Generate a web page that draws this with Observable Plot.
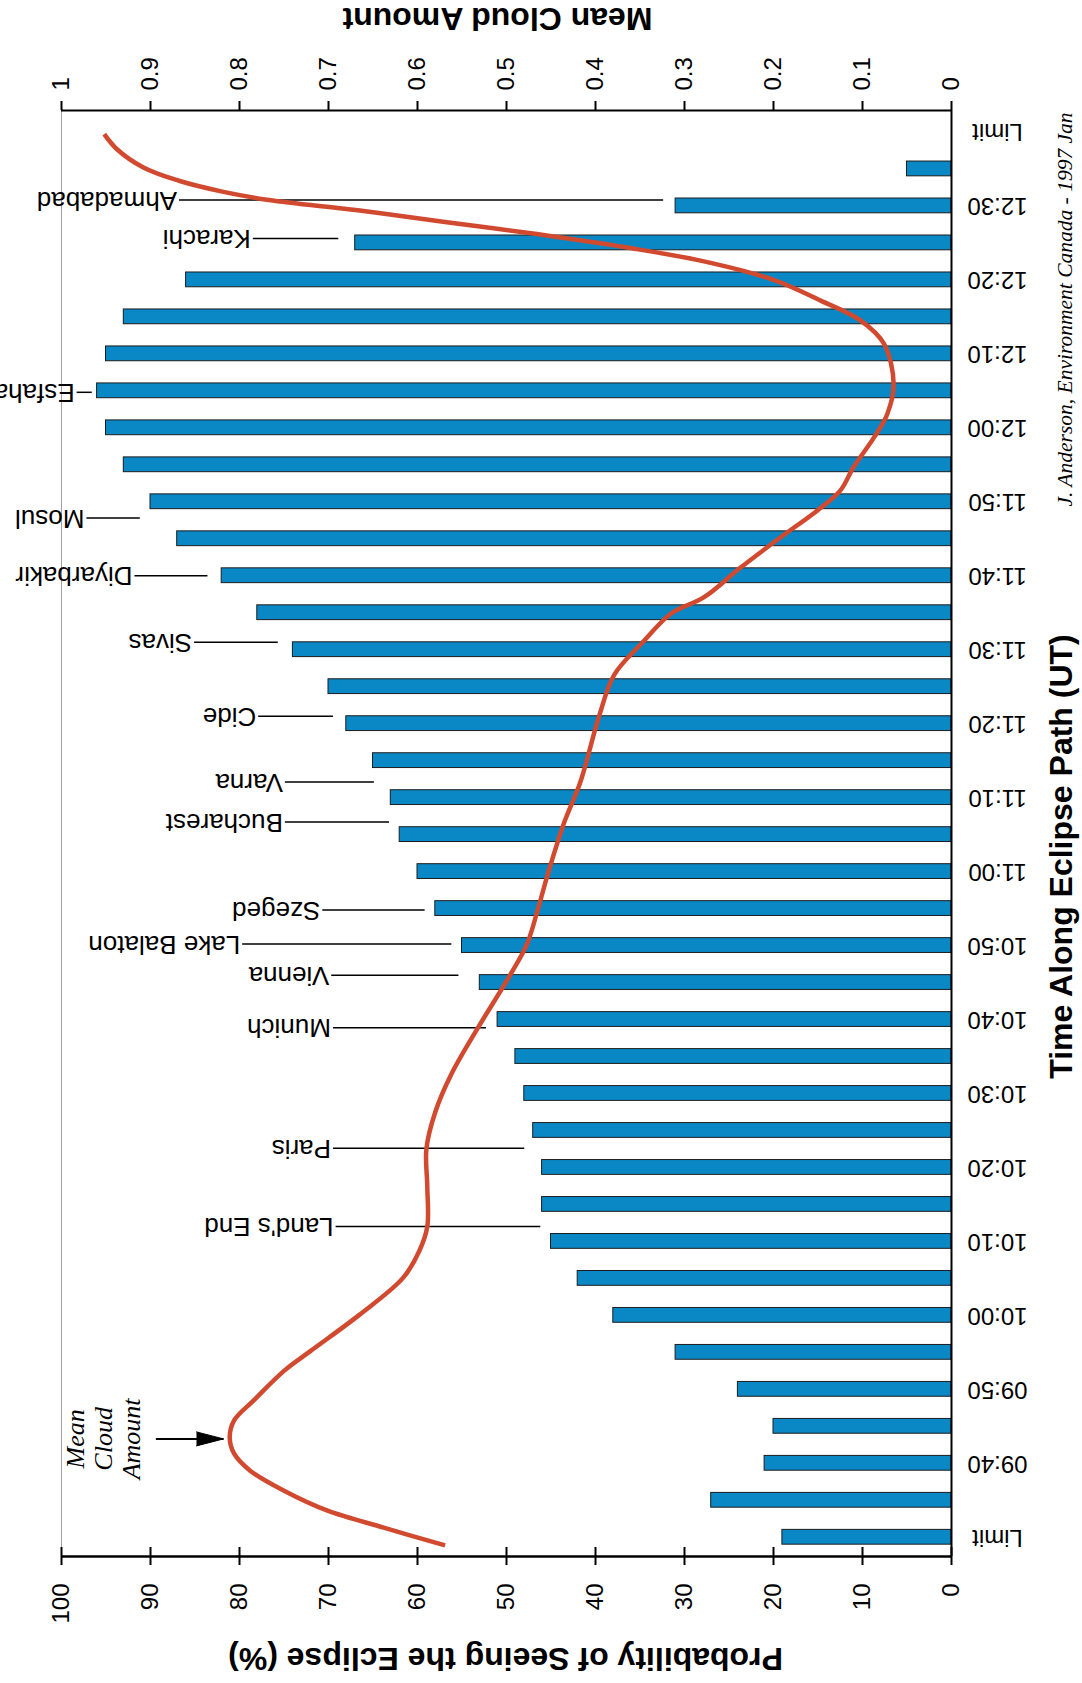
<!DOCTYPE html>
<html>
<head>
<meta charset="utf-8">
<script src="https://cdn.jsdelivr.net/npm/d3@7"></script>
<script src="https://cdn.jsdelivr.net/npm/@observablehq/plot@0.6"></script>
<style>
  html, body { margin: 0; padding: 0; background: #fff; }
</style>
</head>
<body>
<div id="chart"></div>
<script>
// Probability of seeing the eclipse, every 5 minutes along the path (UT)
const barTimes = ["09:30","09:35","09:40","09:45","09:50","09:55","10:00","10:05","10:10","10:15",
  "10:20","10:25","10:30","10:35","10:40","10:45","10:50","10:55","11:00","11:05",
  "11:10","11:15","11:20","11:25","11:30","11:35","11:40","11:45","11:50","11:55",
  "12:00","12:05","12:10","12:15","12:20","12:25","12:30","12:35"];
const probability = [19, 27, 21, 20, 24, 31, 38, 42, 45, 46,
  46, 47, 48, 49, 51, 53, 55, 58, 60, 62,
  63, 65, 68, 70, 74, 78, 82, 87, 90, 93,
  95, 96, 95, 93, 86, 67, 31, 5];

// Time axis: labelled every 10 minutes, both ends of the path marked "Limit"
const axisTimes = ["09:30","09:40","09:50","10:00","10:10","10:20","10:30","10:40","10:50","11:00",
  "11:10","11:20","11:30","11:40","11:50","12:00","12:10","12:20","12:30","12:40"];
const axisLabels = ["Limit","09:40","09:50","10:00","10:10","10:20","10:30","10:40","10:50","11:00",
  "11:10","11:20","11:30","11:40","11:50","12:00","12:10","12:20","12:30","Limit"];

// Probability ticks and the matching mean-cloud ticks on the opposite axis
const probTicks = [0, 10, 20, 30, 40, 50, 60, 70, 80, 90, 100];
const cloudTickLabels = ["0", "0.1", "0.2", "0.3", "0.4", "0.5", "0.6", "0.7", "0.8", "0.9", "1"];

// Mean cloud amount along the path (minutes UT, fraction of sky)
const cloudMinutes = [568.9, 571.3, 573.6, 576.3, 579.0, 581.3, 583.5, 585.8, 588.5, 592.5,
  595.2, 600.1, 605.1, 608.7, 612.0, 617.4, 622.5, 627.5, 632.6, 638.9,
  646.0, 650.2, 654.8, 659.9, 666.7, 672.1, 681.0, 686.6, 691.0, 694.9,
  697.1, 701.1, 705.2, 708.8, 711.5, 714.7, 718.7, 721.9, 725.9, 731.4,
  734.5, 737.2, 740.0, 742.6, 744.4, 746.2, 747.8, 749.4, 750.8, 751.9,
  753.4, 755.2, 757.7, 759.7];
const cloudAmount = [0.569, 0.638, 0.701, 0.750, 0.788, 0.806, 0.811, 0.806, 0.784, 0.750,
  0.720, 0.665, 0.616, 0.598, 0.589, 0.589, 0.590, 0.580, 0.562, 0.532,
  0.496, 0.477, 0.465, 0.453, 0.435, 0.417, 0.396, 0.379, 0.347, 0.315,
  0.278, 0.237, 0.192, 0.151, 0.125, 0.110, 0.087, 0.072, 0.065, 0.076,
  0.102, 0.147, 0.200, 0.282, 0.366, 0.466, 0.567, 0.667, 0.767, 0.818,
  0.868, 0.908, 0.938, 0.952];

// Cities along the path: time (minutes UT) and the span of each leader line (probability units)
const cities = ["Land's End", "Paris", "Munich", "Vienna", "Lake Balaton", "Szeged", "Bucharest",
  "Varna", "Cide", "Sivas", "Diyarbakir", "Mosul", "Esfahan", "Karachi", "Ahmadabad"];
const cityMinutes = [612.0, 622.6, 638.9, 646.0, 650.2, 654.8, 666.7, 672.1, 681.0, 691.0,
  700.0, 707.8, 724.8, 745.6, 750.8];
const leaderFrom = [46.2, 48.0, 52.3, 55.4, 56.2, 59.2, 63.2, 64.9, 69.5, 75.7, 83.6, 91.2, 96.6, 68.9, 32.4];
const leaderTo = [69.2, 69.5, 69.5, 69.7, 79.7, 70.7, 74.9, 74.9, 77.9, 85.1, 91.8, 97.2, 98.3, 78.5, 86.8];

// Curve annotation: arrow pointing at the cloud curve
const noteText = "Mean\nCloud\nAmount";
const noteMinute = 583.3, noteProb = 95.3;
const arrowFrom = 89.4, arrowTo = 81.8;

const credit = "J. Anderson, Environment Canada - 1997 Jan";

// ---- build tables ----
const toMinutes = s => { const [h, m] = s.split(":").map(Number); return h * 60 + m; };
const bars = barTimes.map((s, i) => ({t: toMinutes(s), p: probability[i]}));
const timeTicks = axisTimes.map((s, i) => ({t: toMinutes(s), label: axisLabels[i]}));
const curve = cloudMinutes.map((t, i) => ({t, c: cloudAmount[i]}));
const cityData = cities.map((name, i) => ({name, t: cityMinutes[i], from: leaderFrom[i], to: leaderTo[i]}));

const W = 1082, H = 1683;
const mt = 110, mb = 127, ml = 61, mr = 131;
const frameH = H - mt - mb;
const yDomain = [567.4, 762.9];
const barHalf = 1; // half bar thickness, in minutes

const sans = "'Liberation Sans', Arial, Helvetica, sans-serif";
const serif = "'Liberation Serif', 'Times New Roman', Times, serif";

const chart = Plot.plot({
  width: W,
  height: H,
  marginTop: mt,
  marginBottom: mb,
  marginLeft: ml,
  marginRight: mr,
  x: {domain: [100, 0], axis: null},
  y: {domain: yDomain, axis: null},
  style: {fontFamily: sans, background: "#fff", color: "#000"},
  marks: [
    // thin left edge of the plotting area
    Plot.ruleX([100], {stroke: "#a0a0a0", strokeWidth: 1}),

    // probability bars
    Plot.rectX(bars, {
      x1: 0, x2: "p",
      y1: d => d.t - barHalf, y2: d => d.t + barHalf,
      fill: "#0a88c6", stroke: "#1c1c1c", strokeWidth: 1
    }),

    // city leader lines and names
    Plot.link(cityData, {x1: "from", x2: "to", y1: "t", y2: "t", stroke: "#000", strokeWidth: 1.5}),
    Plot.text(cityData, {
      x: "to", y: "t", text: "name", rotate: 180, textAnchor: "start", lineAnchor: "middle", dx: -2,
      fontSize: 26, fill: "#000"
    }),

    // mean cloud amount on the 0–1 axis (aligned with 0–100)
    Plot.line(curve, {
      x: d => d.c * 100, y: "t", curve: "catmull-rom",
      stroke: "#d14a30", strokeWidth: 4.5, strokeLinecap: "butt"
    }),

    // annotation arrow and text
    Plot.link([0], {x1: arrowFrom, x2: arrowTo, y1: noteMinute, y2: noteMinute, stroke: "#000", strokeWidth: 2}),
    Plot.vector([0], {
      x: arrowTo, y: noteMinute, rotate: 90, length: 27, r: 7, shape: "spike", anchor: "end",
      fill: "#000", stroke: "#000", strokeWidth: 1
    }),
    Plot.text([noteText], {
      x: noteProb, y: noteMinute, text: d => d, rotate: -90, textAnchor: "middle", lineAnchor: "middle",
      fontSize: 26, lineHeight: 1.08, fontFamily: serif, fontStyle: "italic", fill: "#000"
    }),

    // axis lines
    Plot.ruleX([0], {stroke: "#000", strokeWidth: 2}),
    Plot.ruleY([yDomain[0]], {stroke: "#000", strokeWidth: 2.5}),
    Plot.ruleY([yDomain[1]], {stroke: "#000", strokeWidth: 2}),

    // probability ticks (crossing the bottom axis) and cloud ticks (above the top axis)
    Plot.tickX(probTicks, {x: d => d, insetTop: frameH - 9, insetBottom: -9, stroke: "#000", strokeWidth: 2}),
    Plot.tickX(probTicks, {x: d => d, insetTop: -9, insetBottom: frameH, stroke: "#000", strokeWidth: 2}),

    // tick labels
    Plot.text(probTicks, {
      x: d => d, text: d => String(d), frameAnchor: "bottom", dy: 27,
      rotate: -90, textAnchor: "end", lineAnchor: "middle", fontSize: 24, fill: "#000"
    }),
    Plot.text(probTicks, {
      x: d => d, text: (d, i) => cloudTickLabels[i], frameAnchor: "top", dy: -20,
      rotate: -90, textAnchor: "start", lineAnchor: "middle", fontSize: 24, fill: "#000"
    }),
    Plot.text(timeTicks, {
      y: "t", text: "label", frameAnchor: "right", dx: 46,
      rotate: 180, textAnchor: "middle", lineAnchor: "middle", fontSize: 24, fill: "#000"
    }),

    // axis titles
    Plot.text(["Probability of Seeing the Eclipse (%)"], {
      text: d => d, frameAnchor: "bottom", dx: -1, dy: 102, rotate: 180,
      textAnchor: "middle", lineAnchor: "middle",
      fontSize: 32, fontWeight: "bold", fill: "#000"
    }),
    Plot.text(["Mean Cloud Amount"], {
      text: d => d, frameAnchor: "top", dx: -9, dy: -92, rotate: 180,
      textAnchor: "middle", lineAnchor: "middle",
      fontSize: 32, fontWeight: "bold", fill: "#000"
    }),
    Plot.text(["Time Along Eclipse Path (UT)"], {
      text: d => d, frameAnchor: "right", dx: 110, dy: 23, rotate: -90,
      textAnchor: "middle", lineAnchor: "middle",
      fontSize: 32, fontWeight: "bold", fill: "#000"
    }),
    Plot.text([credit], {
      text: d => d, frameAnchor: "top-right", dx: 114, dy: 199, rotate: -90,
      textAnchor: "middle", lineAnchor: "middle",
      fontSize: 21.5, fontFamily: serif, fontStyle: "italic", fill: "#000"
    })
  ]
});

document.getElementById("chart").appendChild(chart);
</script>
</body>
</html>
